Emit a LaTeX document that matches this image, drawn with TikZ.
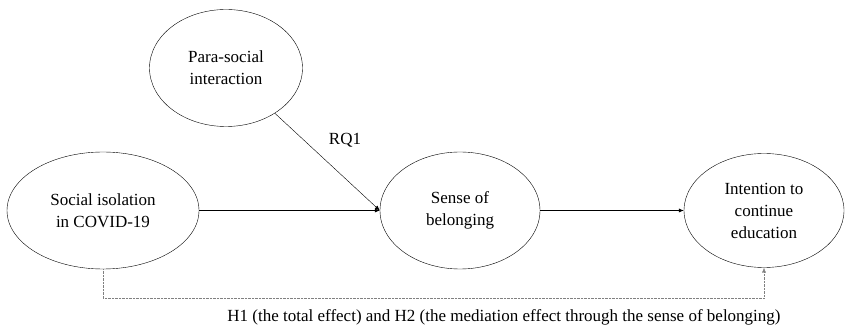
\documentclass[tikz,border=0pt]{standalone}
\usepackage{fontspec}
\setmainfont{Liberation Serif}
\usetikzlibrary{shapes.geometric,arrows.meta}
\tikzset{
    construct/.style={ellipse, draw, thin, inner sep=0pt, align=center,
        font=\fontsize{17}{22}\selectfont},
    path/.style={-{Latex[length=5pt,width=4pt]}, thin},
}
\begin{document}
\begin{tikzpicture}[x=1pt,y=-1pt]
        \useasboundingbox (0,0) rectangle (845,328);
        % the four constructs
        \node[construct, minimum width=153pt, minimum height=117pt] (psi) at (226,68) {Para-social\\interaction};
        \node[construct, minimum width=192pt, minimum height=117pt] (iso) at (103,210.5) {Social isolation\\in COVID-19};
        \node[construct, minimum width=160pt, minimum height=117pt] (sob) at (460,210.5) {Sense of\\belonging};
        \node[construct, minimum width=160pt, minimum height=114pt] (ice) at (764,210.5) {Intention to\\continue\\education};
        % moderation by para-social interaction
        \draw[path] (psi) -- (sob.west);
        \node (rq) at (345,140) {\fontsize{17}{20}\selectfont RQ1};
        % main paths
        \draw[path] (iso) -- (sob);
        \draw[path] (sob) -- (ice);
        % total and mediation effect
        \draw[path, densely dotted, gray] (iso.south) -- ++(0,29) -| (ice.south);
        \node (h) at (504,317) {\fontsize{17}{20}\selectfont H1 (the total effect) and H2 (the mediation effect through the sense of belonging)};
    \end{tikzpicture}
\end{document}
